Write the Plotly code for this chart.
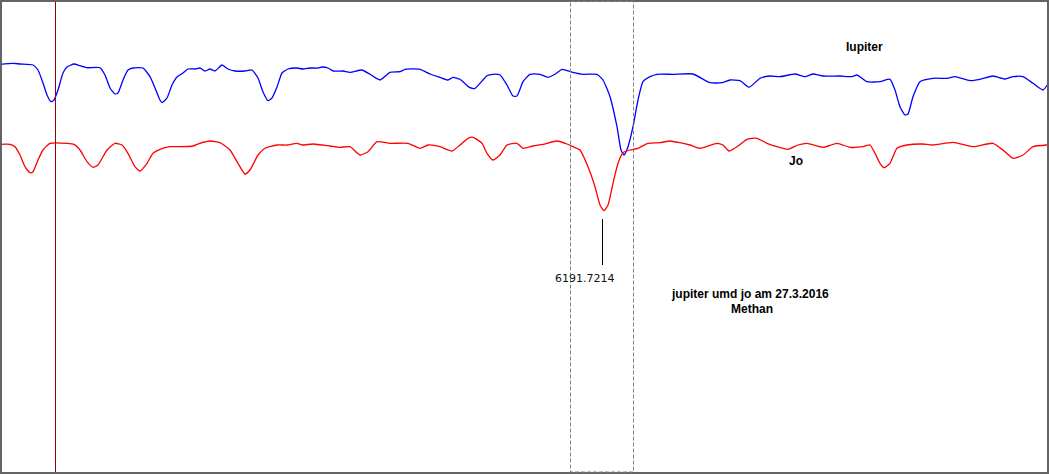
import plotly.graph_objects as go

# Spectrum traces (x: dispersion position, y: plotted level, screen-down positive)
jupiter_x = [0, 13, 20, 33, 38, 43, 47, 51, 54, 58, 63, 67, 74, 80, 87, 100, 105, 110, 115, 118,
             123, 128, 133, 143, 150, 155, 160, 162, 167, 172, 177, 183, 188, 195, 200, 205, 210,
             215, 222, 228, 235, 245, 252, 258, 263, 268, 272, 277, 282, 288, 297, 303, 310, 318,
             322, 328, 333, 343, 350, 362, 370, 380, 390, 400, 405, 420, 430, 440, 448, 453, 460,
             470, 475, 487, 493, 500, 507, 513, 517, 523, 530, 540, 548, 555, 562, 573, 583, 597,
             603, 610, 617, 621, 624, 628, 633, 638, 643, 650, 657, 673, 693, 710, 722, 730, 740,
             749, 760, 770, 780, 795, 805, 813, 823, 840, 852, 857, 867, 880, 890, 895, 900, 905,
             908, 913, 920, 933, 947, 955, 970, 980, 993, 1005, 1013, 1023, 1033, 1043, 1048]
jupiter_y = [64.3, 63.3, 64, 65, 70, 83, 95, 101.7, 100, 90, 73, 67, 64, 65.7, 67.7, 67.7, 75, 88, 94, 93,
             80, 70, 68, 68, 76.7, 88, 100, 102.7, 98, 85, 77, 73, 69, 69, 68, 71, 69,
             71, 65, 69, 71, 71, 70, 78, 92, 100.7, 98, 87, 73, 69, 68, 69, 68, 68,
             67, 68, 71, 71, 72.3, 70, 74.3, 80, 72.3, 71.7, 69.3, 69.3, 74, 77.3, 80, 77.3, 79.3,
             87.7, 88.3, 75.7, 74.3, 75, 85, 96, 96, 81.7, 74.3, 74.3, 77.3, 74.3, 69.3, 72.3, 74.3, 74.3,
             80, 96.7, 126.7, 150, 155, 146.7, 126.7, 100, 81.7, 76.7, 74.3, 74.3, 74, 82.7, 82.7, 80, 80.7,
             87.3, 78.3, 76, 76.7, 74, 76.7, 74, 76, 76, 76.7, 75, 81.7, 81.7, 79.3, 90, 106.7, 115,
             114, 96.7, 81.7, 78.3, 78.3, 76.7, 80.7, 79.3, 76, 79, 76.7, 76.7, 83.3, 90, 84]

jo_x = [0, 10, 15, 20, 25, 30, 33, 38, 43, 50, 67, 74, 80, 87, 93, 98, 107, 115, 122, 128, 135, 140,
        147, 153, 160, 170, 180, 193, 200, 210, 220, 230, 238, 245, 250, 258, 265, 277, 287, 297,
        302, 313, 330, 340, 350, 360, 368, 377, 390, 408, 420, 428, 440, 452, 460, 468, 473, 482,
        487, 493, 500, 507, 517, 523, 533, 543, 557, 567, 573, 580, 588, 595, 600, 604, 608, 613,
        618, 623, 630, 638, 648, 660, 670, 680, 690, 700, 717, 723, 729, 738, 747, 757, 767, 777,
        788, 798, 807, 823, 837, 850, 863, 870, 875, 880, 884, 890, 897, 907, 922, 933, 953, 973,
        993, 1005, 1013, 1023, 1033, 1047]
jo_y = [144.3, 144.3, 146.7, 155, 166.7, 172.7, 171.7, 160, 150, 143.3, 143.3, 144.3, 150, 161.7, 167.3,
        165, 150, 143.3, 145, 153.3, 166.7, 171, 163.3, 153.3, 149.3, 146.7, 146.7, 146, 143.3, 141,
        142.7, 150, 163.3, 174, 170, 155, 148.3, 145, 145, 143.3, 145, 144, 146, 147.3, 146.7, 155,
        151.7, 141.7, 143.3, 143.3, 148.3, 145, 146.7, 151, 145, 138.3, 137.3, 143.3, 153.3, 160, 155,
        145, 143.3, 148.3, 146, 144.3, 141, 144, 146.7, 150, 166.7, 186.7, 205, 210.7, 205, 183.3,
        163.3, 152.7, 150, 148.3, 143.3, 142.7, 141, 142.7, 145, 148.3, 143.3, 145, 151, 146, 139.3,
        138.3, 143.3, 146.7, 149.3, 145, 143.3, 147.3, 143.3, 147.3, 146.7, 145, 153.3, 163.3, 167.7,
        163.3, 148.3, 145, 144, 145, 142.3, 146.7, 143.3, 151.7, 158.3, 155, 146.7, 145]

series_names = ["Iupiter", "Jo"]
line_label = "6191.7214"
title_lines = ["jupiter umd jo am 27.3.2016", "Methan"]

fig = go.Figure()
fig.add_trace(go.Scatter(x=jupiter_x, y=jupiter_y, mode="lines", name=series_names[0],
                         line=dict(color="#0000ff", width=1.3, shape="spline", smoothing=0.5),
                         hoverinfo="skip"))
fig.add_trace(go.Scatter(x=jo_x, y=jo_y, mode="lines", name=series_names[1],
                         line=dict(color="#ff0000", width=1.3, shape="spline", smoothing=0.5),
                         hoverinfo="skip"))

shapes = [
    dict(type="rect", x0=1, x1=1048, y0=1, y1=473, line=dict(color="#646464", width=2)),
    dict(type="line", x0=55.5, x1=55.5, y0=2, y1=472, line=dict(color="#9a0000", width=1)),
    dict(type="rect", x0=570.5, x1=633.5, y0=1.5, y1=472, line=dict(color="#808080", width=1, dash="4px,2px")),
    dict(type="line", x0=602.5, x1=602.5, y0=219, y1=265, line=dict(color="#000000", width=1)),
]

font_t = "DejaVu Sans, Verdana, sans-serif"
font_b = "Liberation Sans, Arial, sans-serif"
annotations = [
    dict(x=585, y=278, text=line_label, showarrow=False, xanchor="center", yanchor="middle",
         font=dict(family=font_t, size=11, color="#111111")),
    dict(x=750, y=294, text="<b>" + title_lines[0] + "</b>", showarrow=False, xanchor="center",
         yanchor="middle", font=dict(family=font_b, size=12, color="#000000")),
    dict(x=752, y=309, text="<b>" + title_lines[1] + "</b>", showarrow=False, xanchor="center",
         yanchor="middle", font=dict(family=font_b, size=12, color="#000000")),
    dict(x=864, y=47, text="<b>" + series_names[0] + "</b>", showarrow=False, xanchor="center",
         yanchor="middle", font=dict(family=font_b, size=12, color="#000000")),
    dict(x=796, y=161, text="<b>" + series_names[1] + "</b>", showarrow=False, xanchor="center",
         yanchor="middle", font=dict(family=font_b, size=12, color="#000000")),
]

fig.update_layout(
    width=1049, height=474,
    margin=dict(l=0, r=0, t=0, b=0, pad=0),
    paper_bgcolor="#ffffff", plot_bgcolor="#ffffff",
    showlegend=False,
    xaxis=dict(range=[0, 1049], visible=False, fixedrange=True),
    yaxis=dict(range=[474, 0], visible=False, fixedrange=True),
    shapes=shapes, annotations=annotations,
)

fig.write_html("out.html", config={"displayModeBar": False},
               post_script="document.body.style.margin='0';document.body.style.overflow='hidden';")
